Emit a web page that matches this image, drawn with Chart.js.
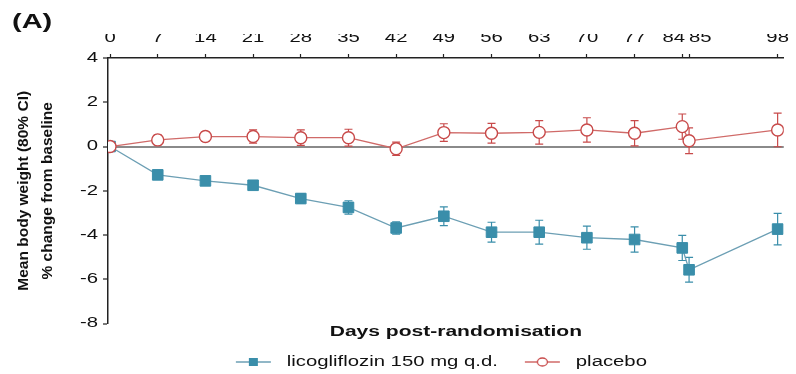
<!DOCTYPE html>
<html>
<head>
<meta charset="utf-8">
<script src="https://cdn.jsdelivr.net/npm/chart.js@4.4.0/dist/chart.umd.min.js"></script>
<style>
  html, body { margin: 0; padding: 0; background: #fff; }
</style>
</head>
<body>
<canvas id="c" width="796" height="374"></canvas>
<script>
// data
const days = [0, 7, 14, 21, 28, 35, 42, 49, 56, 63, 70, 77, 84, 85, 98];
const licoMean = [0, -1.28, -1.55, -1.75, -2.35, -2.75, -3.68, -3.15, -3.87, -3.87, -4.12, -4.2, -4.58, -5.57, -3.73];
const licoErr  = [0, 0.15, 0.15, 0.15, 0.22, 0.3, 0.28, 0.42, 0.45, 0.54, 0.52, 0.57, 0.57, 0.56, 0.71];
const placMean = [0, 0.3, 0.45, 0.45, 0.4, 0.4, -0.1, 0.63, 0.6, 0.64, 0.75, 0.6, 0.9, 0.26, 0.75];
const placErr  = [0, 0.23, 0.22, 0.3, 0.35, 0.38, 0.3, 0.4, 0.45, 0.53, 0.55, 0.57, 0.57, 0.58, 0.76];
const xTicks = [0, 7, 14, 21, 28, 35, 42, 49, 56, 63, 70, 77, 84, 85, 98];
const yTicks = [-8, -6, -4, -2, 0, 2, 4];

const FONT = "'Liberation Sans', Arial, sans-serif";
const BLUE = '#3a8eaa', BLUE_LINE = '#6c9fb4';
const RED = '#c84a4a', RED_LINE = '#d06a68';
const STRETCH = 1.45; // the figure's lettering is wide

function pts(ys) { return days.map((d, i) => ({ x: d, y: ys[i] })); }

// widen horizontal text about its anchor point (rotated text left alone)
function widenText(ctx) {
  const fill = ctx.fillText.bind(ctx), measure = ctx.measureText.bind(ctx);
  ctx.fillText = function (text, x, y) {
    const m = ctx.getTransform();
    if (m.b !== 0 || m.c !== 0) return fill(text, x, y);
    const p = m.transformPoint(new DOMPoint(x, y));
    ctx.save();
    ctx.setTransform(new DOMMatrix().translate(p.x, p.y).scale(STRETCH, 1).translate(-p.x, -p.y).multiply(m));
    fill(text, x, y);
    ctx.restore();
  };
  ctx.measureText = function (text) {
    const r = measure(text);
    return {
      width: r.width * STRETCH,
      actualBoundingBoxAscent: r.actualBoundingBoxAscent,
      actualBoundingBoxDescent: r.actualBoundingBoxDescent,
      actualBoundingBoxLeft: r.actualBoundingBoxLeft * STRETCH,
      actualBoundingBoxRight: r.actualBoundingBoxRight * STRETCH
    };
  };
}

// little line+marker pictures for the legend
function legendIcon(lineCol, shape) {
  const c = document.createElement('canvas');
  c.width = 59; c.height = 14;
  const g = c.getContext('2d');
  g.strokeStyle = lineCol; g.lineWidth = 1.5;
  g.beginPath(); g.moveTo(15, 7); g.lineTo(50, 7); g.stroke();
  if (shape === 'rect') {
    g.fillStyle = BLUE; g.fillRect(28, 3, 9, 8);
  } else {
    g.beginPath(); g.ellipse(32.5, 7, 5, 4, 0, 0, Math.PI * 2);
    g.fillStyle = '#fff'; g.fill();
    g.strokeStyle = RED; g.lineWidth = 1.3; g.stroke();
  }
  return c;
}
const icons = [legendIcon(BLUE_LINE, 'rect'), legendIcon(RED_LINE, 'circle')];

const errorBars = {
  id: 'errorBars',
  beforeDatasetsDraw(chart) {
    const g = chart.ctx, xs = chart.scales.x, ys = chart.scales.y;
    chart.data.datasets.forEach(ds => {
      g.save();
      g.strokeStyle = ds.errColor; g.lineWidth = 1.2;
      ds.data.forEach((p, i) => {
        const e = ds.errs[i];
        if (!e) return;
        const x = xs.getPixelForValue(p.x);
        const y1 = ys.getPixelForValue(p.y - e), y2 = ys.getPixelForValue(p.y + e);
        g.beginPath();
        g.moveTo(x, y1); g.lineTo(x, y2);
        g.moveTo(x - 4, y1); g.lineTo(x + 4, y1);
        g.moveTo(x - 4, y2); g.lineTo(x + 4, y2);
        g.stroke();
      });
      g.restore();
    });
  }
};

// x title and legend sit a little off the plot centre in the figure
const nudgeBoxes = {
  id: 'nudgeBoxes',
  afterLayout(chart) {
    const lg = chart.legend;
    lg.left -= 12; lg.right -= 12; lg.top += 2; lg.bottom += 2;
    const sub = chart.boxes.find(b => b.options && b.options.text === 'Days post-randomisation');
    if (sub) { sub.left += 10; sub.right += 10; }
  }
};

const ctx = document.getElementById('c').getContext('2d');
widenText(ctx);

new Chart(ctx, {
  type: 'line',
  data: {
    datasets: [
      {
        label: 'licogliflozin 150 mg q.d.', order: 1,
        data: pts(licoMean), errs: licoErr, errColor: BLUE,
        borderColor: BLUE_LINE, borderWidth: 1.3,
        pointStyle: 'rect', pointRadius: 7.5,
        pointBackgroundColor: BLUE, pointBorderColor: BLUE, pointBorderWidth: 1
      },
      {
        label: 'placebo', order: 0,
        data: pts(placMean), errs: placErr, errColor: RED,
        borderColor: RED_LINE, borderWidth: 1.3,
        pointStyle: 'circle', pointRadius: 6,
        pointBackgroundColor: '#fff', pointBorderColor: RED, pointBorderWidth: 1.4
      }
    ]
  },
  options: {
    responsive: false,
    animation: false,
    layout: { padding: { left: 12, right: 6, top: 0, bottom: -3 } },
    scales: {
      x: {
        type: 'linear', position: 'top', min: -0.3, max: 98.9,
        afterBuildTicks: s => { s.ticks = xTicks.map(v => ({ value: v })); },
        afterFit: s => { s.height = 24; },
        ticks: {
          padding: 7, color: '#111', font: { family: FONT, size: 14 }, autoSkip: false, maxRotation: 0,
          // 84 and 85 sit one day apart: push the two labels away from each other
          callback: v => v === 84 ? '84   ' : v === 85 ? '    85' : String(v)
        },
        grid: { drawOnChartArea: false, tickLength: 4, tickColor: '#222', tickWidth: 1.2 },
        border: { color: '#222', width: 1.5 }
      },
      y: {
        min: -8, max: 4,
        afterBuildTicks: s => { s.ticks = yTicks.map(v => ({ value: v })); },
        afterFit: s => { s.width = 96; },
        ticks: { padding: 5, color: '#111', font: { family: FONT, size: 14 } },
        grid: {
          color: c => (c.tick && c.tick.value === 0) ? '#8a8a8a' : 'rgba(0,0,0,0)',
          lineWidth: c => (c.tick && c.tick.value === 0) ? 2 : 0,
          tickColor: '#222', tickWidth: 1.2, tickLength: 5
        },
        border: { color: '#222', width: 1.5 },
        title: {
          display: true,
          text: ['Mean body weight (80% CI)', '% change from baseline'],
          color: '#111',
          font: { family: FONT, size: 15.5, weight: 'bold', lineHeight: 1.55 },
          padding: { top: 0, bottom: 0 }
        }
      }
    },
    plugins: {
      title: {
        display: true, text: '(A)', align: 'start', color: '#111',
        font: { family: FONT, size: 20, weight: 'bold' },
        padding: { top: 10, bottom: 0 }
      },
      subtitle: {
        display: true, text: 'Days post-randomisation', position: 'bottom',
        fullSize: false, weight: 500, color: '#111',
        font: { family: FONT, size: 14.5, weight: 'bold' },
        padding: { top: 0, bottom: 0 }
      },
      legend: {
        position: 'bottom', fullSize: false,
        labels: {
          usePointStyle: true, pointStyleWidth: 59, padding: 12,
          color: '#111', font: { family: FONT, size: 14 },
          generateLabels: chart => chart.data.datasets.map((ds, i) => ({
            text: ds.label, pointStyle: icons[i], datasetIndex: i,
            fillStyle: 'rgba(0,0,0,0)', strokeStyle: 'rgba(0,0,0,0)', lineWidth: 0,
            fontColor: '#111', hidden: false
          }))
        }
      },
      tooltip: { enabled: false }
    }
  },
  plugins: [errorBars, nudgeBoxes]
});
</script>
</body>
</html>
